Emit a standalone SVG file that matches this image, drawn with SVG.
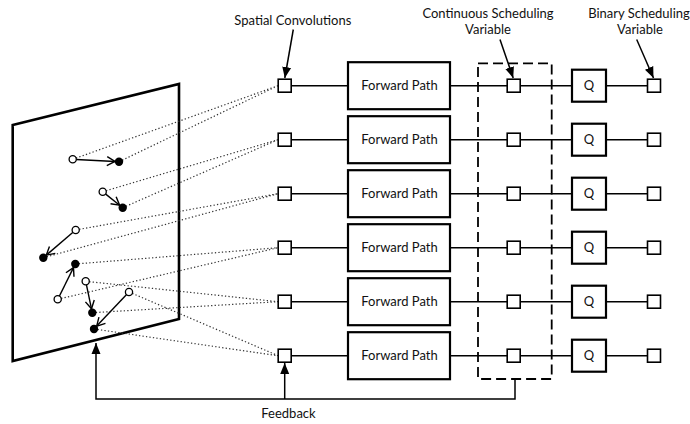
<svg xmlns="http://www.w3.org/2000/svg" width="690" height="424" viewBox="0 0 690 424">
<style>
text{font-family:Lato,"Liberation Sans",sans-serif;font-size:13px;fill:#111;text-anchor:middle}
.sq{fill:#fff;stroke:#000;stroke-width:1.6}
.box{fill:#fff;stroke:#000;stroke-width:2.2}
.ln{stroke:#000;stroke-width:1.5;fill:none}
.dot{stroke:#333;stroke-width:1.2;stroke-dasharray:1.3 2.2;fill:none}
.op{fill:#fff;stroke:#000;stroke-width:1.3}
.fp{fill:#000}
.mv{stroke:#000;stroke-width:1.4;fill:none;marker-end:url(#vh)}
</style>
<defs>
<marker id="vh" markerUnits="userSpaceOnUse" markerWidth="12" markerHeight="12" viewBox="0 0 12 12" refX="10" refY="6" orient="auto">
<path d="M2,1.5 L10,6 L2,10.5" fill="none" stroke="#000" stroke-width="1.4"/>
</marker>
<marker id="fh" markerUnits="userSpaceOnUse" markerWidth="12" markerHeight="12" viewBox="0 0 12 12" refX="11" refY="6" orient="auto">
<path d="M0,1.5 L11,6 L0,10.5 Z" fill="#000"/>
</marker>
</defs>
<rect width="690" height="424" fill="#fff"/>

<g id="plane">
<path d="M12.7,125 L179,84 L179,319 L12.7,361 Z" fill="none" stroke="#000" stroke-width="2.6"/>
</g>

<g id="connectors">
<!-- dotted projections -->
<path class="dot" d="M72.7,159.3 L278,85.7 M119,161.7 L278,85.7"/>
<path class="dot" d="M102.7,191.7 L278,139.7 M122.7,207.7 L278,139.7"/>
<path class="dot" d="M75.7,230 L278,193.7 M43.3,257.7 L278,193.7"/>
<path class="dot" d="M75.3,264 L278,247.7 M57.7,299.3 L278,247.7"/>
<path class="dot" d="M85.7,281.3 L278,301.7 M92.3,312.7 L278,301.7"/>
<path class="dot" d="M129,292 L278,355.7 M94,329 L278,355.7"/>
<!-- motion arrows -->
<path class="mv" d="M76.2,159.5 L115,161.5"/>
<path class="mv" d="M105.4,193.9 L119.6,205.2"/>
<path class="mv" d="M73,232.3 L46.3,255.1"/>
<path class="mv" d="M59.3,296.2 L73.5,267.6"/>
<path class="mv" d="M86.4,284.7 L91.5,308.8"/>
<path class="mv" d="M126.6,294.5 L96.7,326.1"/>
<!-- row lines -->
<path class="ln" d="M291.2,85.7 H348 M450,85.7 H507.2 M520.2,85.7 H572 M606,85.7 H647.5"/>
<path class="ln" d="M291.2,139.7 H348 M450,139.7 H507.2 M520.2,139.7 H572 M606,139.7 H647.5"/>
<path class="ln" d="M291.2,193.7 H348 M450,193.7 H507.2 M520.2,193.7 H572 M606,193.7 H647.5"/>
<path class="ln" d="M291.2,247.7 H348 M450,247.7 H507.2 M520.2,247.7 H572 M606,247.7 H647.5"/>
<path class="ln" d="M291.2,301.7 H348 M450,301.7 H507.2 M520.2,301.7 H572 M606,301.7 H647.5"/>
<path class="ln" d="M291.2,355.7 H348 M450,355.7 H507.2 M520.2,355.7 H572 M606,355.7 H647.5"/>
<!-- label arrows -->
<path class="ln" d="M293.3,29.5 L284.8,78" marker-end="url(#fh)"/>
<path class="ln" d="M500,39.5 L513.2,78" marker-end="url(#fh)"/>
<path class="ln" d="M636.7,39.5 L653.5,78" marker-end="url(#fh)"/>
<!-- feedback -->
<path class="ln" d="M515,379 V399 H96 V343" marker-end="url(#fh)"/>
<path class="ln" d="M284.7,399 V363" marker-end="url(#fh)"/>
</g>

<g id="points">
<circle class="op" cx="72.7" cy="159.3" r="3.6"/><circle class="fp" cx="119" cy="161.7" r="4.2"/>
<circle class="op" cx="102.7" cy="191.7" r="3.6"/><circle class="fp" cx="122.7" cy="207.7" r="4.2"/>
<circle class="op" cx="75.7" cy="230" r="3.6"/><circle class="fp" cx="43.3" cy="257.7" r="4.2"/>
<circle class="op" cx="57.7" cy="299.3" r="3.6"/><circle class="fp" cx="75.3" cy="264" r="4.2"/>
<circle class="op" cx="85.7" cy="281.3" r="3.6"/><circle class="fp" cx="92.3" cy="312.7" r="4.2"/>
<circle class="op" cx="129" cy="292" r="3.6"/><circle class="fp" cx="94" cy="329" r="4.2"/>
</g>

<g id="dashed-region">
<rect x="478" y="63.3" width="73.7" height="315.7" fill="none" stroke="#000" stroke-width="1.8" stroke-dasharray="10 5"/>
</g>

<g id="row1">
<rect class="sq" x="278.2" y="79.2" width="13" height="13"/>
<rect class="box" x="348" y="62.2" width="102" height="47"/><text x="399.5" y="90">Forward Path</text>
<rect class="sq" x="507.2" y="79.2" width="13" height="13"/>
<rect class="box" x="572" y="69.7" width="34" height="32"/><text x="589" y="90">Q</text>
<rect class="sq" x="647.5" y="79.2" width="13" height="13"/>
</g>
<g id="row2">
<rect class="sq" x="278.2" y="133.2" width="13" height="13"/>
<rect class="box" x="348" y="116.2" width="102" height="47"/><text x="399.5" y="144">Forward Path</text>
<rect class="sq" x="507.2" y="133.2" width="13" height="13"/>
<rect class="box" x="572" y="123.7" width="34" height="32"/><text x="589" y="144">Q</text>
<rect class="sq" x="647.5" y="133.2" width="13" height="13"/>
</g>
<g id="row3">
<rect class="sq" x="278.2" y="187.2" width="13" height="13"/>
<rect class="box" x="348" y="170.2" width="102" height="47"/><text x="399.5" y="198">Forward Path</text>
<rect class="sq" x="507.2" y="187.2" width="13" height="13"/>
<rect class="box" x="572" y="177.7" width="34" height="32"/><text x="589" y="198">Q</text>
<rect class="sq" x="647.5" y="187.2" width="13" height="13"/>
</g>
<g id="row4">
<rect class="sq" x="278.2" y="241.2" width="13" height="13"/>
<rect class="box" x="348" y="224.2" width="102" height="47"/><text x="399.5" y="252">Forward Path</text>
<rect class="sq" x="507.2" y="241.2" width="13" height="13"/>
<rect class="box" x="572" y="231.7" width="34" height="32"/><text x="589" y="252">Q</text>
<rect class="sq" x="647.5" y="241.2" width="13" height="13"/>
</g>
<g id="row5">
<rect class="sq" x="278.2" y="295.2" width="13" height="13"/>
<rect class="box" x="348" y="278.2" width="102" height="47"/><text x="399.5" y="306">Forward Path</text>
<rect class="sq" x="507.2" y="295.2" width="13" height="13"/>
<rect class="box" x="572" y="285.7" width="34" height="32"/><text x="589" y="306">Q</text>
<rect class="sq" x="647.5" y="295.2" width="13" height="13"/>
</g>
<g id="row6">
<rect class="sq" x="278.2" y="349.2" width="13" height="13"/>
<rect class="box" x="348" y="332.2" width="102" height="47"/><text x="399.5" y="360">Forward Path</text>
<rect class="sq" x="507.2" y="349.2" width="13" height="13"/>
<rect class="box" x="572" y="339.7" width="34" height="32"/><text x="589" y="360">Q</text>
<rect class="sq" x="647.5" y="349.2" width="13" height="13"/>
</g>

<g id="labels">
<text x="292.8" y="25">Spatial Convolutions</text>
<text x="488" y="18">Continuous Scheduling</text>
<text x="488" y="34">Variable</text>
<text x="639" y="18">Binary Scheduling</text>
<text x="640" y="34">Variable</text>
<text x="288.5" y="418">Feedback</text>
</g>
</svg>
